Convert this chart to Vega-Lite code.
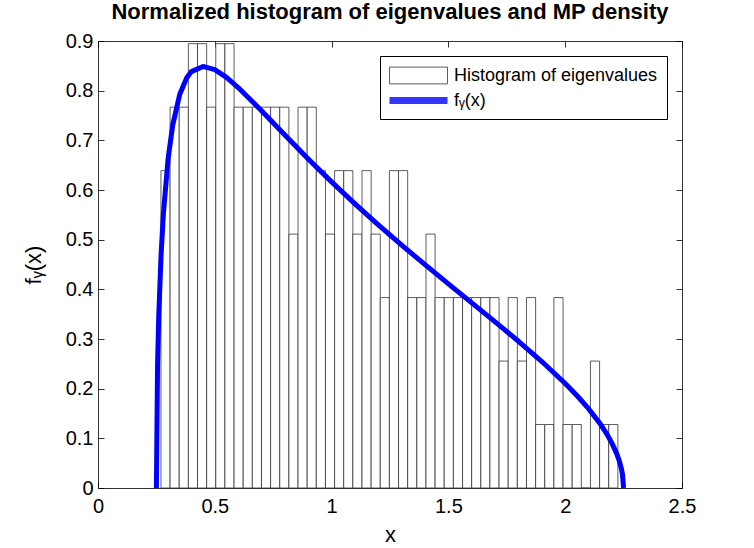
{
  "$schema": "https://vega.github.io/schema/vega-lite/v6.json",
  "width": 584,
  "height": 447,
  "autosize": {"type": "none"},
  "padding": {"left": 98, "top": 41, "right": 72, "bottom": 60},
  "background": "white",
  "title": {
    "text": "Normalized histogram of eigenvalues and MP density",
    "fontSize": 22,
    "fontWeight": "bold",
    "font": "Liberation Sans",
    "color": "black",
    "anchor": "middle",
    "offset": 7
  },
  "config": {
    "font": "Liberation Sans",
    "view": {"stroke": null},
    "axis": {
      "grid": false,
      "domainColor": "black",
      "domainWidth": 0.8,
      "tickColor": "black",
      "tickWidth": 0.8,
      "tickSize": -6,
      "labelFont": "Liberation Sans",
      "labelFontSize": 20,
      "labelColor": "black",
      "labelFlush": false,
      "labelOverlap": false,
      "titleFont": "Liberation Sans",
      "titleFontSize": 22,
      "titleFontWeight": "normal",
      "titleColor": "black"
    }
  },
  "datasets": {
    "hist": [
      {"binStart": 0.2695, "binEnd": 0.3086, "density": 0.639},
      {"binStart": 0.3086, "binEnd": 0.3477, "density": 0.7668},
      {"binStart": 0.3477, "binEnd": 0.3869, "density": 0.7668},
      {"binStart": 0.3869, "binEnd": 0.426, "density": 0.8946},
      {"binStart": 0.426, "binEnd": 0.4651, "density": 0.8946},
      {"binStart": 0.4651, "binEnd": 0.5042, "density": 0.7668},
      {"binStart": 0.5042, "binEnd": 0.5433, "density": 0.8946},
      {"binStart": 0.5433, "binEnd": 0.5825, "density": 0.8946},
      {"binStart": 0.5825, "binEnd": 0.6216, "density": 0.7668},
      {"binStart": 0.6216, "binEnd": 0.6607, "density": 0.7668},
      {"binStart": 0.6607, "binEnd": 0.6998, "density": 0.7668},
      {"binStart": 0.6998, "binEnd": 0.7389, "density": 0.7668},
      {"binStart": 0.7389, "binEnd": 0.7781, "density": 0.7668},
      {"binStart": 0.7781, "binEnd": 0.8172, "density": 0.7668},
      {"binStart": 0.8172, "binEnd": 0.8563, "density": 0.5112},
      {"binStart": 0.8563, "binEnd": 0.8954, "density": 0.7668},
      {"binStart": 0.8954, "binEnd": 0.9345, "density": 0.7668},
      {"binStart": 0.9345, "binEnd": 0.9737, "density": 0.639},
      {"binStart": 0.9737, "binEnd": 1.0128, "density": 0.5112},
      {"binStart": 1.0128, "binEnd": 1.0519, "density": 0.639},
      {"binStart": 1.0519, "binEnd": 1.091, "density": 0.639},
      {"binStart": 1.091, "binEnd": 1.1301, "density": 0.5112},
      {"binStart": 1.1301, "binEnd": 1.1693, "density": 0.639},
      {"binStart": 1.1693, "binEnd": 1.2084, "density": 0.5112},
      {"binStart": 1.2084, "binEnd": 1.2475, "density": 0.3834},
      {"binStart": 1.2475, "binEnd": 1.2866, "density": 0.639},
      {"binStart": 1.2866, "binEnd": 1.3257, "density": 0.639},
      {"binStart": 1.3257, "binEnd": 1.3649, "density": 0.3834},
      {"binStart": 1.3649, "binEnd": 1.404, "density": 0.3834},
      {"binStart": 1.404, "binEnd": 1.4431, "density": 0.5112},
      {"binStart": 1.4431, "binEnd": 1.4822, "density": 0.3834},
      {"binStart": 1.4822, "binEnd": 1.5213, "density": 0.3834},
      {"binStart": 1.5213, "binEnd": 1.5605, "density": 0.3834},
      {"binStart": 1.5605, "binEnd": 1.5996, "density": 0.3834},
      {"binStart": 1.5996, "binEnd": 1.6387, "density": 0.3834},
      {"binStart": 1.6387, "binEnd": 1.6778, "density": 0.3834},
      {"binStart": 1.6778, "binEnd": 1.7169, "density": 0.3834},
      {"binStart": 1.7169, "binEnd": 1.7561, "density": 0.2556},
      {"binStart": 1.7561, "binEnd": 1.7952, "density": 0.3834},
      {"binStart": 1.7952, "binEnd": 1.8343, "density": 0.2556},
      {"binStart": 1.8343, "binEnd": 1.8734, "density": 0.3834},
      {"binStart": 1.8734, "binEnd": 1.9125, "density": 0.1278},
      {"binStart": 1.9125, "binEnd": 1.9517, "density": 0.1278},
      {"binStart": 1.9517, "binEnd": 1.9908, "density": 0.3834},
      {"binStart": 1.9908, "binEnd": 2.0299, "density": 0.1278},
      {"binStart": 2.0299, "binEnd": 2.069, "density": 0.1278},
      {"binStart": 2.069, "binEnd": 2.1081, "density": 0},
      {"binStart": 2.1081, "binEnd": 2.1473, "density": 0.2556},
      {"binStart": 2.1473, "binEnd": 2.1864, "density": 0.1278},
      {"binStart": 2.1864, "binEnd": 2.2255, "density": 0.1278}
    ],
    "mp": [
      {"x": 0.25, "fy": 0},
      {"x": 0.255, "fy": 0.2493},
      {"x": 0.26, "fy": 0.3454},
      {"x": 0.27, "fy": 0.4692},
      {"x": 0.28, "fy": 0.5527},
      {"x": 0.3, "fy": 0.6626},
      {"x": 0.32, "fy": 0.7312},
      {"x": 0.35, "fy": 0.7928},
      {"x": 0.38, "fy": 0.826},
      {"x": 0.4, "fy": 0.8384},
      {"x": 0.45, "fy": 0.8488},
      {"x": 0.5, "fy": 0.8422},
      {"x": 0.55, "fy": 0.8266},
      {"x": 0.6, "fy": 0.8063},
      {"x": 0.7, "fy": 0.7596},
      {"x": 0.8, "fy": 0.7107},
      {"x": 0.9, "fy": 0.6626},
      {"x": 1.0, "fy": 0.6164},
      {"x": 1.1, "fy": 0.5722},
      {"x": 1.2, "fy": 0.5299},
      {"x": 1.3, "fy": 0.4891},
      {"x": 1.4, "fy": 0.4496},
      {"x": 1.5, "fy": 0.4109},
      {"x": 1.6, "fy": 0.3727},
      {"x": 1.7, "fy": 0.3344},
      {"x": 1.8, "fy": 0.2954},
      {"x": 1.9, "fy": 0.2546},
      {"x": 2.0, "fy": 0.2105},
      {"x": 2.05, "fy": 0.1863},
      {"x": 2.1, "fy": 0.1597},
      {"x": 2.15, "fy": 0.1291},
      {"x": 2.18, "fy": 0.1073},
      {"x": 2.2, "fy": 0.0904},
      {"x": 2.22, "fy": 0.0697},
      {"x": 2.23, "fy": 0.0568},
      {"x": 2.24, "fy": 0.0401},
      {"x": 2.245, "fy": 0.0283},
      {"x": 2.25, "fy": 0}
    ]
  },
  "layer": [
    {
      "data": {"name": "hist"},
      "mark": {"type": "bar", "fill": "white", "strokeWidth": 0.8},
      "encoding": {
        "x": {
          "field": "binStart",
          "type": "quantitative",
          "scale": {"domain": [0, 2.5], "nice": false, "zero": false},
          "axis": {
            "orient": "bottom",
            "title": "x",
            "values": [0, 0.5, 1, 1.5, 2, 2.5],
            "format": "~g",
            "labelPadding": 14,
            "titlePadding": 8
          }
        },
        "x2": {"field": "binEnd"},
        "y": {
          "field": "density",
          "type": "quantitative",
          "scale": {"domain": [0, 0.9], "nice": false},
          "axis": {
            "orient": "left",
            "title": "fᵧ(x)",
            "values": [0, 0.1, 0.2, 0.3, 0.4, 0.5, 0.6, 0.7, 0.8, 0.9],
            "format": "~g",
            "labelPadding": 11,
            "titlePadding": 20
          }
        },
        "y2": {"datum": 0},
        "stroke": {
          "datum": "Histogram of eigenvalues",
          "scale": {"domain": ["Histogram of eigenvalues", "fᵧ(x)"], "range": ["#333333", "#0000ff"]},
          "legend": {
            "title": null,
            "orient": "top-right",
            "offset": 15,
            "strokeColor": "black",
            "fillColor": "white",
            "padding": 9,
            "symbolSize": 400,
            "symbolType": {"expr": "datum.value === 'Histogram of eigenvalues' ? 'M-1,-0.84H4.8V0.84H-1Z' : 'M-1,-0.3H4.8M-1,-0.2H4.8M-1,-0.1H4.8M-1,0H4.8M-1,0.1H4.8M-1,0.2H4.8M-1,0.3H4.8'"},
            "symbolStrokeWidth": 0.8,
            "labelOffset": 44,
            "labelFontSize": 18,
            "labelLimit": 0,
            "labelColor": "black",
            "labelFont": "Liberation Sans",
            "rowPadding": 4
          }
        }
      }
    },
    {
      "data": {"name": "mp"},
      "mark": {"type": "line", "strokeWidth": 5, "strokeJoin": "round"},
      "encoding": {
        "x": {
          "field": "x",
          "type": "quantitative",
          "axis": {"orient": "top", "title": null, "labels": false, "values": [0, 0.5, 1, 1.5, 2, 2.5]}
        },
        "y": {
          "field": "fy",
          "type": "quantitative",
          "axis": {"orient": "right", "title": null, "labels": false, "values": [0, 0.1, 0.2, 0.3, 0.4, 0.5, 0.6, 0.7, 0.8, 0.9]}
        },
        "stroke": {"datum": "fᵧ(x)"}
      }
    }
  ],
  "resolve": {"axis": {"x": "independent", "y": "independent"}}
}
